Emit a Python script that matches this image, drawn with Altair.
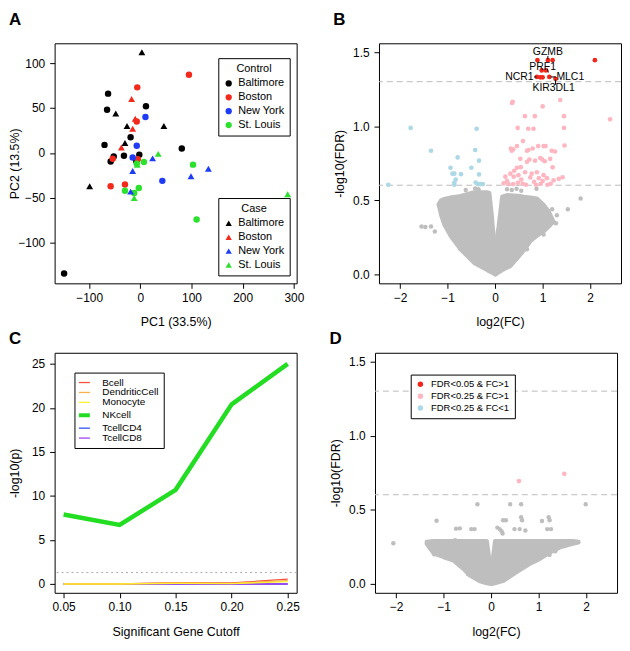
import altair as alt
import pandas as pd

FONT = "Liberation Sans"

# ---------------- Panel A: PCA ----------------
cities = ["Baltimore", "Boston", "New York", "St. Louis"]
city_colors = ["#000000", "#F22A1C", "#1E3CF5", "#2EE02E"]

ctrl_city = (["Baltimore"] * 12 + ["Boston"] * 7 + ["New York"] * 4 + ["St. Louis"] * 7)
ctrl_pc1 = [-63, -65, 11, -19, -70, 81, -32, -52, -58, -2, -8, -149,
            95, -6, -7, -54, -58, -30, -5,
            10, -7, -15, 43,
            103, 7, -3, -12, -30, 110, -7]
ctrl_pc2 = [66, 48, 52, 17.5, 9, 5, -3, -4, -9.5, -2, -9, -134,
            87, 73, 35, -6.5, -37, -35, -7,
            40, 8, -5, -31,
            -13, -10, -39, -44.5, -42, -74, -12]

case_city = (["Baltimore"] * 6 + ["Boston"] * 4 + ["New York"] * 5 + ["St. Louis"] * 4)
case_pc1 = [3, -48, -26, 46, -30, -99,
            -17, -10, -15, -37,
            24, -15, 99, 133, -19,
            35, -6, -12, 288]
case_pc2 = [112, 44, 30, 30, 11, -37,
            60, 38, 27, 6,
            -6, -20, -26, -17.5, -43,
            -1, -13, -50, -46]

# ---------------- Panel B: volcano ----------------
red_fc = [0.89, 1.11, 1.21, 2.10, 0.98, 1.07, 0.88, 0.95, 1.00, 1.14, 1.27]
red_fdr = [1.446, 1.446, 1.446, 1.446, 1.377, 1.377, 1.333, 1.33, 1.33, 1.333, 1.32]

pink_fc = [0.355, 0.37, 1.0, 1.37, 0.627, 0.836, 1.45, 2.42,
           0.474, 0.697, 0.808, 1.45, 0.585,
           0.33, 0.38, 0.35, 0.46, 0.67, 0.70, 0.79, 0.905, 1.02, 1.06, 1.19, 1.26, 1.46,
           0.53, 0.67, 0.72, 0.84, 0.95, 0.99, 1.045, 1.16, 1.21,
           0.46, 0.54, 0.40, 0.32, 0.215, 0.39, 0.49, 0.63, 0.77, 0.88, 0.74, 0.92, 1.02, 1.09, 1.23, 1.34, 1.42,
           0.18, 0.28, 0.38, 0.48, 0.58, 0.65, 0.86, 0.96, 1.10, 1.17, 0.25, 0.55, 0.82, 1.0]
pink_fdr = [1.157, 1.165, 1.134, 1.177, 1.068, 1.068, 1.068, 1.047,
            0.989, 0.983, 0.983, 0.989, 0.9,
            0.85, 0.845, 0.835, 0.866, 0.835, 0.84, 0.85, 0.866, 0.866, 0.866, 0.835, 0.83, 0.87,
            0.78, 0.76, 0.775, 0.768, 0.786, 0.777, 0.764, 0.78, 0.723,
            0.72, 0.724, 0.70, 0.68, 0.66, 0.66, 0.67, 0.69, 0.68, 0.69, 0.655, 0.65, 0.67, 0.65, 0.635, 0.645, 0.656,
            0.615, 0.61, 0.61, 0.618, 0.612, 0.605, 0.605, 0.612, 0.605, 0.612, 0.63, 0.64, 0.625, 0.63]

blue_fc = [-1.78, -0.39, -1.35, -0.42, -0.79, -0.94, -0.50, -0.34, -0.90, -0.86,
           -0.72, -0.34, -0.83, -0.86, -0.86, -0.41, -0.36, -0.31, -0.26, -2.25]
blue_fdr = [0.989, 0.983, 0.835, 0.84, 0.79, 0.72, 0.72, 0.768, 0.68, 0.68,
            0.677, 0.675, 0.64, 0.62, 0.605, 0.62, 0.61, 0.61, 0.61, 0.605]

grayB_fc = [-1.55, -1.35, -1.27, -1.47, -1.19, -0.73, 1.80, 1.53, 1.28, 1.02, 0.67,
            -0.62, -0.42, -0.35, 0.25, 0.35, 0.45, 0.55, 0.87, -0.9, -1.05, 1.3, 1.2]
grayB_fdr = [0.324, 0.324, 0.29, 0.32, 0.47, 0.172, 0.513, 0.44, 0.346, 0.27, 0.17,
             0.57, 0.58, 0.575, 0.575, 0.57, 0.578, 0.565, 0.578, 0.52, 0.50, 0.40, 0.44]

# dense cloud envelopes (left lobe / right lobe)
cloudB_left_fc = [-1.18, -1.14, -1.07, -0.935, -0.725, -0.445, -0.17, -0.12, -0.063, -0.02, 0.0]
cloudB_left_lo = [0.46, 0.40, 0.335, 0.257, 0.168, 0.078, 0.03, 0.02, 0.012, 0.004, 0.0]
cloudB_left_hi = [0.48, 0.50, 0.51, 0.52, 0.53, 0.555, 0.555, 0.55, 0.38, 0.20, 0.0]
cloudB_right_fc = [0.0, 0.01, 0.07, 0.11, 0.146, 0.25, 0.32, 0.53, 0.6, 0.74, 0.88, 1.02, 1.12, 1.23]
cloudB_right_lo = [0.0, 0.0, 0.012, 0.02, 0.028, 0.045, 0.056, 0.134, 0.16, 0.224, 0.26, 0.29, 0.32, 0.357]
cloudB_right_hi = [0.0, 0.2, 0.32, 0.425, 0.525, 0.536, 0.535, 0.53, 0.525, 0.52, 0.513, 0.47, 0.43, 0.357]

gene_names = ["GZMB", "PRF1", "NCR1", "MLC1", "KIR3DL1"]
gene_lab_fc = [1.11, 1.0, 0.81, 1.29, 1.23]
gene_lab_fdr = [1.50, 1.40, 1.33, 1.33, 1.26]
gene_align = ["center", "center", "right", "left", "center"]
lead_fc = [1.11, 1.10, 0.82, 1.17, 1.27]
lead_fc2 = [1.11, 1.12, 0.87, 1.28, 1.27]
lead_fdr = [1.475, 1.388, 1.333, 1.333, 1.315]
lead_fdr2 = [1.452, 1.363, 1.333, 1.333, 1.28]

# ---------------- Panel C: enrichment lines ----------------
cutoffs = [0.05, 0.10, 0.15, 0.20, 0.25]
cell_types = ["Bcell", "DendriticCell", "Monocyte", "NKcell", "TcellCD4", "TcellCD8"]
cell_colors = ["#F4503C", "#F9B04A", "#FFF030", "#22DD22", "#3050F0", "#A040F0"]
cell_widths = [1.3, 1.3, 1.3, 4.5, 1.3, 1.3]
vals_Bcell = [0.02, 0.02, 0.15, 0.12, 0.55]
vals_Dendritic = [0.01, 0.01, 0.12, 0.08, 0.38]
vals_Mono = [0.0, 0.0, 0.07, 0.04, 0.28]
vals_NK = [7.9, 6.7, 10.7, 20.4, 25.0]
vals_CD4 = [0.0, 0.0, 0.0, 0.0, 0.0]
vals_CD8 = [0.0, 0.0, 0.0, 0.0, 0.0]

# ---------------- Panel D: volcano ----------------
pinkD_fc = [0.585, 1.54]
pinkD_fdr = [0.694, 0.743]
grayD_fc = [-2.06, -1.33, -1.2, -1.04, -1.15, -0.74, -0.66, -0.42, -0.35, -0.29, 0.13, 0.18, 0.22,
            0.24, 0.25, 0.31, 0.40, 0.49, 0.60, 0.63, 0.63, 0.65, 0.72, 1.07, 1.18, 1.26, 1.21,
            1.23, 1.58, 1.68, 1.80, 1.99, -0.76, 1.02, 1.23, -0.49, 1.35, -1.1]
grayD_fdr = [0.275, 0.28, 0.2, 0.19, 0.426, 0.373, 0.375, 0.37, 0.37, 0.538, 0.38, 0.37, 0.355,
             0.34, 0.43, 0.43, 0.538, 0.37, 0.37, 0.538, 0.45, 0.43, 0.36, 0.425, 0.37, 0.37, 0.45,
             0.43, 0.28, 0.28, 0.28, 0.538, 0.295, 0.18, 0.196, 0.067, 0.22, 0.22]
cloudD_left_fc = [-1.36, -1.21, -1.0, -0.79, -0.55, -0.45, -0.24, -0.09, -0.03, 0.0]
cloudD_left_lo = [0.27, 0.205, 0.18, 0.157, 0.09, 0.056, 0.018, 0.004, 0.0, 0.0]
cloudD_left_hi = [0.285, 0.29, 0.29, 0.29, 0.29, 0.29, 0.29, 0.29, 0.15, 0.09]
cloudD_right_fc = [0.0, 0.03, 0.08, 0.26, 0.53, 0.81, 1.02, 1.23, 1.44, 1.72, 1.84]
cloudD_right_lo = [0.0, 0.0, 0.004, 0.02, 0.078, 0.134, 0.167, 0.21, 0.245, 0.27, 0.28]
cloudD_right_hi = [0.09, 0.16, 0.29, 0.29, 0.29, 0.29, 0.29, 0.29, 0.29, 0.29, 0.285]

sig_cats = ["FDR<0.05 & FC>1", "FDR<0.25 & FC>1", "FDR<0.25 & FC<1"]
sig_colors = ["#F2261A", "#FFB6C1", "#ADD8E6"]
GRAY = "#BEBEBE"
thresholds = [1.30103, 0.60206]

W, H = 244, 242


def panel_title(letter, offset):
    return alt.TitleParams(text=letter, anchor="start", fontSize=17, fontWeight="bold",
                           font=FONT, offset=offset, frame="bounds")


# ---------- A ----------
dfA_c = pd.DataFrame({"pc1": ctrl_pc1, "pc2": ctrl_pc2, "Control": ctrl_city})
dfA_t = pd.DataFrame({"pc1": case_pc1, "pc2": case_pc2, "Case": case_city})
xA = alt.X("pc1:Q", scale=alt.Scale(domain=[-167.5, 305.5], nice=False, zero=False),
           axis=alt.Axis(values=[-100, 0, 100, 200, 300], title="PC1 (33.5%)"))
yA = alt.Y("pc2:Q", scale=alt.Scale(domain=[-145, 122], nice=False, zero=False),
           axis=alt.Axis(values=[-100, -50, 0, 50, 100], title="PC2 (13.5%)"))


def city_legend(title, lx, ly, sym):
    return alt.Legend(title=title, orient="none", legendX=lx, legendY=ly, strokeColor="black",
                      fillColor="white", padding=5, titleAnchor="middle", titleFontWeight="normal",
                      titleFontSize=11, labelFontSize=11, titleFont=FONT, labelFont=FONT,
                      symbolSize=40, rowPadding=2, titlePadding=4, symbolType=sym,
                      labelColor="black", titleColor="black", cornerRadius=0, symbolStrokeWidth=0)


ptsA_c = alt.Chart(dfA_c).mark_point(shape="circle", filled=True, size=42, opacity=1).encode(
    x=xA, y=yA,
    color=alt.Color("Control:N", scale=alt.Scale(domain=cities, range=city_colors),
                    legend=city_legend("Control", 165, 15, "circle")))
ptsA_t = alt.Chart(dfA_t).mark_point(shape="triangle-up", filled=True, size=48, opacity=1).encode(
    x=xA, y=yA,
    color=alt.Color("Case:N", scale=alt.Scale(domain=cities, range=city_colors),
                    legend=city_legend("Case", 165, 156, "triangle-up")))
chartA = alt.layer(ptsA_c, ptsA_t).resolve_scale(color="independent").properties(
    width=W, height=H, title=panel_title("A", 14))


# ---------- volcano helper ----------
def volcano(cloud_fc_l, cloud_lo_l, cloud_hi_l, cloud_fc_r, cloud_lo_r, cloud_hi_r,
            gray_fc, gray_fdr, col_fc, col_fdr, col_cat, legend):
    xs = alt.Scale(domain=[-2.446, 2.65], nice=False, zero=False)
    ys = alt.Scale(domain=[-0.06, 1.56], nice=False, zero=False)
    xV = alt.X("fc:Q", scale=xs, axis=alt.Axis(values=[-2, -1, 0, 1, 2], title="log2(FC)"))
    yV = alt.Y("fdr:Q", scale=ys, axis=alt.Axis(values=[0, 0.5, 1.0, 1.5], format=".1f", title="-log10(FDR)"))
    cloud = pd.DataFrame({
        "fc": cloud_fc_l + cloud_fc_r,
        "lo": cloud_lo_l + cloud_lo_r,
        "hi": cloud_hi_l + cloud_hi_r,
        "lobe": ["L"] * len(cloud_fc_l) + ["R"] * len(cloud_fc_r),
    })
    area = alt.Chart(cloud).mark_area(color=GRAY, stroke=GRAY, strokeWidth=4, strokeJoin="round",
                                      opacity=1, interpolate="linear").encode(
        x=xV, y=alt.Y("hi:Q", scale=ys, stack=None), y2="lo:Q", detail="lobe:N")
    gray = alt.Chart(pd.DataFrame({"fc": gray_fc, "fdr": gray_fdr})).mark_circle(
        color=GRAY, size=20, opacity=1).encode(x=xV, y=yV)
    rules = alt.Chart(pd.DataFrame({"t": thresholds})).mark_rule(
        color="#BBBBBB", strokeDash=[6, 4], strokeWidth=1).encode(y=alt.Y("t:Q", scale=ys))
    col = alt.Chart(pd.DataFrame({"fc": col_fc, "fdr": col_fdr, "cat": col_cat})).mark_circle(
        size=22, opacity=1).encode(
        x=xV, y=yV,
        color=alt.Color("cat:N", scale=alt.Scale(domain=sig_cats, range=sig_colors), legend=legend))
    return [area, gray, rules, col]


# ---------- B ----------
colB_fc = pink_fc + blue_fc + red_fc
colB_fdr = pink_fdr + blue_fdr + red_fdr
colB_cat = [sig_cats[1]] * len(pink_fc) + [sig_cats[2]] * len(blue_fc) + [sig_cats[0]] * len(red_fc)
layersB = volcano(cloudB_left_fc, cloudB_left_lo, cloudB_left_hi,
                  cloudB_right_fc, cloudB_right_lo, cloudB_right_hi,
                  grayB_fc, grayB_fdr, colB_fc, colB_fdr, colB_cat, None)
xsB = alt.Scale(domain=[-2.446, 2.65], nice=False, zero=False)
ysB = alt.Scale(domain=[-0.06, 1.56], nice=False, zero=False)
leaders = alt.Chart(pd.DataFrame({"x": lead_fc, "x2": lead_fc2, "y": lead_fdr, "y2": lead_fdr2})).mark_rule(
    color="black", strokeWidth=1).encode(
    x=alt.X("x:Q", scale=xsB), x2="x2:Q", y=alt.Y("y:Q", scale=ysB), y2="y2:Q")
labsB = []
for al in ["center", "left", "right"]:
    sub = pd.DataFrame({"fc": gene_lab_fc, "fdr": gene_lab_fdr, "g": gene_names, "a": gene_align})
    sub = sub[sub["a"] == al]
    labsB.append(alt.Chart(sub).mark_text(align=al, baseline="middle", fontSize=10.5, font=FONT,
                                          color="black").encode(
        x=alt.X("fc:Q", scale=xsB), y=alt.Y("fdr:Q", scale=ysB), text="g:N"))
chartB = alt.layer(*layersB, leaders, *labsB).properties(width=W, height=H, title=panel_title("B", 14))

# ---------- C ----------
order_draw = [4, 5, 0, 1, 2, 3]
series = [vals_Bcell, vals_Dendritic, vals_Mono, vals_NK, vals_CD4, vals_CD8]
rowsC = []
for i in order_draw:
    for c, v in zip(cutoffs, series[i]):
        rowsC.append({"cut": c, "p": v, "cell": cell_types[i], "w": cell_widths[i]})
dfC = pd.DataFrame(rowsC)
xsC = alt.Scale(domain=[0.042, 0.258], nice=False, zero=False)
ysC = alt.Scale(domain=[-1.0, 26.26], nice=False, zero=False)
legC = alt.Legend(title=None, orient="none", legendX=20, legendY=20,
                  strokeColor="black", fillColor="white", padding=5,
                  labelFontSize=10, labelFont=FONT, labelColor="black",
                  symbolType="stroke", symbolSize=121, rowPadding=0,
                  labelOffset=13, cornerRadius=0,
                  symbolStrokeWidth={"expr": "datum.value == 'NKcell' ? 4 : 1.3"})
linesC = alt.Chart(dfC).mark_line(strokeCap="butt", strokeJoin="miter").encode(
    x=alt.X("cut:Q", scale=xsC, axis=alt.Axis(values=cutoffs, format=".2f", title="Significant Gene Cutoff")),
    y=alt.Y("p:Q", scale=ysC, axis=alt.Axis(values=[0, 5, 10, 15, 20, 25], title="-log10(p)")),
    color=alt.Color("cell:N", scale=alt.Scale(domain=cell_types, range=cell_colors), legend=legC),
    strokeWidth=alt.StrokeWidth("w:Q", scale=None, legend=None),
    detail="cell:N",
)
ruleC = alt.Chart(pd.DataFrame({"t": [thresholds[0]]})).mark_rule(
    color="#AAAAAA", strokeDash=[2, 3], strokeWidth=1).encode(y=alt.Y("t:Q", scale=ysC))
chartC = alt.layer(ruleC, linesC).properties(width=W, height=H, title=panel_title("C", 5))

# ---------- D ----------
legD = alt.Legend(title=None, orient="none", legendX=36, legendY=22, strokeColor="black",
                  fillColor="white", padding=5, labelFontSize=9.5, labelFont=FONT, labelColor="black",
                  symbolType="circle", symbolSize=30, rowPadding=1, labelOffset=6, cornerRadius=0,
                  symbolStrokeWidth=0)
layersD = volcano(cloudD_left_fc, cloudD_left_lo, cloudD_left_hi,
                  cloudD_right_fc, cloudD_right_lo, cloudD_right_hi,
                  grayD_fc, grayD_fdr, pinkD_fc, pinkD_fdr, [sig_cats[1]] * len(pinkD_fc), legD)
chartD = alt.layer(*layersD).properties(width=W, height=H, title=panel_title("D", 5))

row1 = alt.hconcat(chartA, chartB, spacing=28).resolve_scale(color="independent")
row2 = alt.hconcat(chartC, chartD, spacing=28).resolve_scale(color="independent")
chart = alt.vconcat(row1, row2, spacing=0).resolve_scale(color="independent").properties(
    padding={"left": 0, "top": 0, "right": 0, "bottom": 0}
).configure_view(stroke="black", strokeWidth=1).configure_axis(
    grid=False, domain=False, tickColor="black", tickSize=5, labelColor="black", titleColor="black",
    labelFont=FONT, titleFont=FONT, labelFontSize=12, titleFontSize=12.5, titleFontWeight="normal"
).configure_axisX(labelPadding=4, titleY=33, titleBaseline="top").configure_axisY(
    labelPadding=5, titleX=-33, titleBaseline="bottom"
).configure_title(color="black")

chart.save("out.html", embed_options={"renderer": "svg", "actions": False})
